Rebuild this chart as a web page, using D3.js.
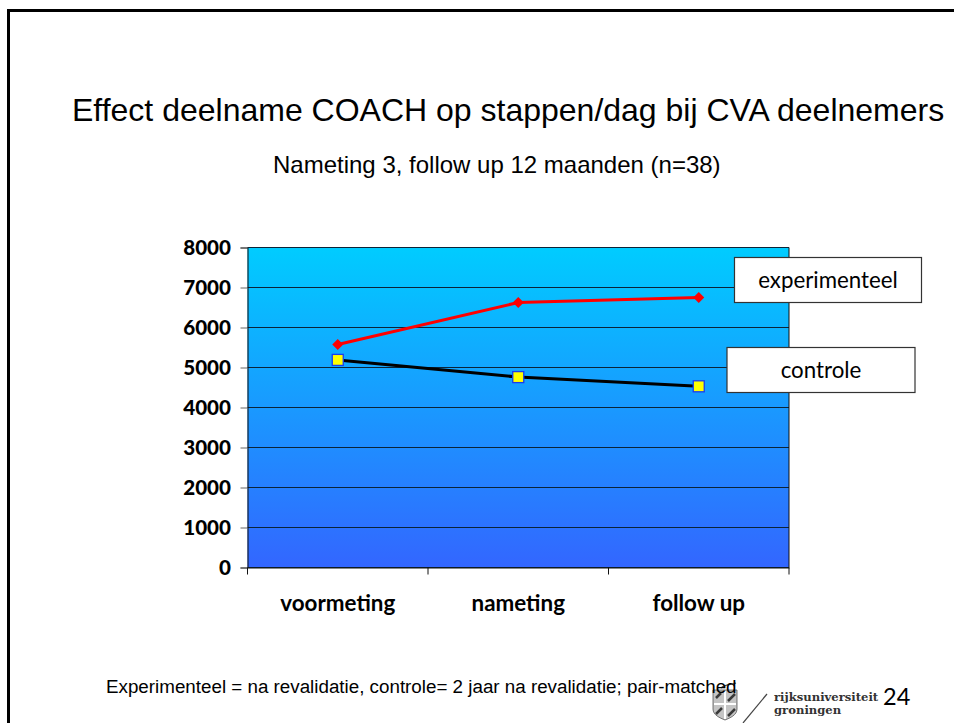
<!DOCTYPE html>
<html>
<head>
<meta charset="utf-8">
<script src="https://cdn.jsdelivr.net/npm/d3@7"></script>
<style>
html,body{margin:0;padding:0;background:#fff;}
svg{display:block;}
</style>
</head>
<body>
<svg id="slide" width="954" height="723"></svg>
<script>
const categories = ["voormeting", "nameting", "follow up"];
const experimenteel = [5575, 6625, 6750];
const controle = [5190, 4760, 4530];
const yTicks = [0, 1000, 2000, 3000, 4000, 5000, 6000, 7000, 8000];

const svg = d3.select("#slide");
const plot = {left: 247.5, right: 789, top: 247.5, bottom: 567.5};
const sans = "'Liberation Sans', Arial, sans-serif";
const chartFont = "Lato, sans-serif";

// Slide frame: open on the right and bottom edges
svg.append("path")
  .attr("d", "M8.5,723V10.5H954")
  .attr("fill", "none").attr("stroke", "#000").attr("stroke-width", 3);

// Titles
svg.append("text").attr("x", 72).attr("y", 121)
  .style("font", `32px ${sans}`).attr("fill", "#000")
  .text("Effect deelname COACH op stappen/dag bij CVA deelnemers");
svg.append("text").attr("x", 273).attr("y", 173)
  .style("font", `24px ${sans}`).attr("fill", "#000")
  .text("Nameting 3, follow up 12 maanden (n=38)");

// Plot background gradient
const grad = svg.append("defs").append("linearGradient")
  .attr("id", "plotFill").attr("x1", 0).attr("y1", 0).attr("x2", 0).attr("y2", 1);
grad.append("stop").attr("offset", 0).attr("stop-color", "#00ccff");
grad.append("stop").attr("offset", 1).attr("stop-color", "#3366ff");

const y = d3.scaleLinear().domain([0, 8000]).range([plot.bottom, plot.top]);
const xBand = d3.scaleBand().domain(categories).range([plot.left, plot.right]);
const xc = c => xBand(c) + xBand.bandwidth() / 2;

svg.append("rect")
  .attr("x", plot.left).attr("y", plot.top)
  .attr("width", plot.right - plot.left).attr("height", plot.bottom - plot.top)
  .attr("fill", "url(#plotFill)");

// Gridlines
svg.append("g").selectAll("line").data(yTicks).join("line")
  .attr("x1", plot.left).attr("x2", plot.right)
  .attr("y1", d => y(d)).attr("y2", d => y(d))
  .attr("stroke", "#0b2438").attr("stroke-width", 1);

// Axes
const yAxis = d3.axisLeft(y).tickValues(yTicks).tickSize(7).tickPadding(9.5).tickFormat(d3.format("d"));
const yG = svg.append("g").attr("transform", `translate(${plot.left},0)`).call(yAxis);
yG.selectAll("text").style("font", `900 20.6px ${chartFont}`).attr("fill", "#000").attr("dy", "0.36em");
yG.select(".domain").attr("stroke", "#111");
yG.selectAll(".tick line").attr("stroke", "#666");

const xAxis = d3.axisBottom(xBand).tickSize(0).tickPadding(28);
const xG = svg.append("g").attr("transform", `translate(0,${plot.bottom})`).call(xAxis);
xG.selectAll("text").style("font", `bold 22.4px ${chartFont}`).attr("fill", "#000");
xG.select(".domain").attr("stroke", "#111");
xG.selectAll(".tick line").remove();

// Category boundary ticks
const boundaries = categories.map(c => xBand(c)).concat(plot.right);
svg.append("g").selectAll("line").data(boundaries).join("line")
  .attr("x1", d => d).attr("x2", d => d)
  .attr("y1", plot.bottom).attr("y2", plot.bottom + 7)
  .attr("stroke", "#111");

// Right edge of the plot
svg.append("line").attr("x1", plot.right).attr("x2", plot.right)
  .attr("y1", plot.top).attr("y2", plot.bottom).attr("stroke", "#111");

// Series lines and markers
const line = d3.line().x((d, i) => xc(categories[i])).y(d => y(d));
svg.append("path").attr("d", line(experimenteel)).attr("fill", "none")
  .attr("stroke", "#ff0000").attr("stroke-width", 3);
svg.append("path").attr("d", line(controle)).attr("fill", "none")
  .attr("stroke", "#000").attr("stroke-width", 3);

svg.append("g").selectAll("path").data(experimenteel).join("path")
  .attr("transform", (d, i) => `translate(${xc(categories[i])},${y(d)})`)
  .attr("d", "M0,-5.5L5.5,0L0,5.5L-5.5,0Z")
  .attr("fill", "#ff0000");
svg.append("g").selectAll("rect").data(controle).join("rect")
  .attr("x", (d, i) => xc(categories[i]) - 5.5).attr("y", d => y(d) - 5.5)
  .attr("width", 11).attr("height", 11)
  .attr("fill", "#ffff00").attr("stroke", "#1a3cf0").attr("stroke-width", 1.3);

// Series callout boxes
const callouts = [
  {label: "experimenteel", x: 734.5, y: 257.5, w: 187, h: 45},
  {label: "controle", x: 727, y: 347.5, w: 188, h: 45}
];
const boxes = svg.append("g").selectAll("g").data(callouts).join("g");
boxes.append("rect")
  .attr("x", d => d.x).attr("y", d => d.y).attr("width", d => d.w).attr("height", d => d.h)
  .attr("fill", "#fff").attr("stroke", "#333").attr("stroke-width", 1.2);
boxes.append("text")
  .attr("x", d => d.x + d.w / 2).attr("y", d => d.y + d.h / 2 + 7.5)
  .attr("text-anchor", "middle")
  .style("font", `22.3px ${chartFont}`).attr("fill", "#000")
  .text(d => d.label);

// University mark: crest, slash and wordmark
const crest = svg.append("g").attr("transform", "translate(713,683)");
crest.append("path")
  .attr("d", "M0,7H24V26C24,32 17,35 12,37C7,35 0,32 0,26Z")
  .attr("fill", "#c4c4c4").attr("stroke", "#555").attr("stroke-width", 0.8);
crest.append("path").attr("d", "M12,8V36M1,21H23").attr("stroke", "#fff").attr("stroke-width", 2);
crest.append("path").attr("d", "M3,31L9,25M15,18L22,11M15,33L22,26M3,15L8,10")
  .attr("stroke", "#3a3a3a").attr("stroke-width", 2.5);
crest.append("path").attr("d", "M8,5C12,1 18,2 23,0").attr("fill", "none").attr("stroke", "#444").attr("stroke-width", 1.2);

svg.append("line").attr("x1", 767).attr("y1", 694).attr("x2", 743).attr("y2", 723)
  .attr("stroke", "#444").attr("stroke-width", 1.2);
const serif = "'DejaVu Serif', 'Liberation Serif', serif";
svg.append("text").attr("x", 774).attr("y", 701)
  .style("font", `bold 11.6px ${serif}`).attr("fill", "#333").text("rijksuniversiteit");
svg.append("text").attr("x", 774).attr("y", 714)
  .style("font", `bold 11.6px ${serif}`).attr("fill", "#333").text("groningen");

// Footnote, running over the crest
svg.append("text").attr("x", 106).attr("y", 692.5)
  .style("font", `18.8px ${sans}`).attr("fill", "#000")
  .text("Experimenteel = na revalidatie, controle= 2 jaar na revalidatie; pair-matched");

// Slide number
svg.append("text").attr("x", 883).attr("y", 705)
  .style("font", `23.5px ${chartFont}`).attr("fill", "#000").text("24");
</script>
</body>
</html>
